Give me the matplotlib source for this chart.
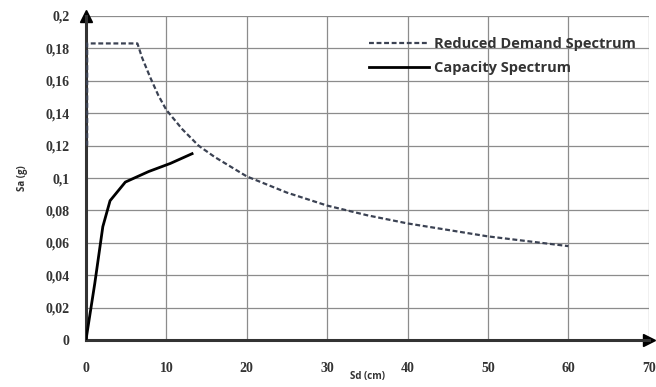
import numpy as np
import matplotlib.pyplot as plt

# reduced demand spectrum (Sd in cm, Sa in g)
demand_sd = [0.15, 0.15, 2.5, 6.4, 7, 8, 9, 10, 12, 14, 16, 18, 20, 25, 30, 35, 40, 45, 50, 55, 60]
demand_sa = [0.12, 0.183, 0.183, 0.183, 0.174, 0.162, 0.151, 0.142, 0.130, 0.120, 0.113, 0.107,
             0.101, 0.091, 0.083, 0.077, 0.072, 0.068, 0.064, 0.061, 0.058]

# capacity spectrum
capacity_sd = [0, 1.1, 2.1, 3.0, 4.9, 7.8, 10.5, 13.2]
capacity_sa = [0, 0.035, 0.070, 0.086, 0.0975, 0.104, 0.109, 0.115]

xticks = [0, 10, 20, 30, 40, 50, 60, 70]
yticks = [0, 0.02, 0.04, 0.06, 0.08, 0.1, 0.12, 0.14, 0.16, 0.18, 0.2]
ylabels = ['0', '0,02', '0,04', '0,06', '0,08', '0,1', '0,12', '0,14', '0,16', '0,18', '0,2']

fig = plt.figure(figsize=(6.56, 3.87), dpi=100)
ax = fig.add_axes([0.131, 0.121, 0.858, 0.838])

ax.plot(demand_sd, demand_sa, color='#3b4253', lw=1.6, ls=(0, (2.2, 1.2)),
        label='Reduced Demand Spectrum', zorder=3)
ax.plot(capacity_sd, capacity_sa, color='black', lw=2.0, label='Capacity Spectrum', zorder=3)

ax.set_xlim(0, 70)
ax.set_ylim(0, 0.2)
ax.set_xticks(xticks)
ax.set_yticks(yticks)
ax.set_yticklabels(ylabels)
ax.grid(True, color='#8c8c8c', lw=0.9)
ax.tick_params(length=0, pad=12, labelsize=10, colors='#333333')
for lab in ax.get_xticklabels() + ax.get_yticklabels():
    lab.set_family('Liberation Serif')
    lab.set_fontweight('bold')
ax.tick_params(axis='x', pad=16)

for s in ['top', 'right']:
    ax.spines[s].set_visible(False)
ax.spines['left'].set_linewidth(2.2)
ax.spines['bottom'].set_linewidth(2.2)
ax.spines['left'].set_color('#333333')
ax.spines['bottom'].set_color('#333333')

# arrow heads on the axes
ax.plot(1, 0, '>', color='black', ms=8, transform=ax.transAxes, clip_on=False)
ax.plot(0, 1, '^', color='black', ms=8, transform=ax.transAxes, clip_on=False)

ax.set_xlabel('Sd (cm)', fontsize=7, family='Open Sans', fontweight='bold', labelpad=-3, color='#333333')
ax.set_ylabel('Sa (g)', fontsize=7, family='Open Sans', fontweight='bold', labelpad=12, color='#333333')

leg = ax.legend(loc='upper right', bbox_to_anchor=(1.0, 0.975), frameon=False,
                prop={'family': 'Open Sans', 'weight': 'bold', 'size': 10.5},
                handlelength=4.1, handletextpad=0.35, labelspacing=0.7)
for t in leg.get_texts():
    t.set_color('#333333')

fig.savefig('out.png', dpi=100)
